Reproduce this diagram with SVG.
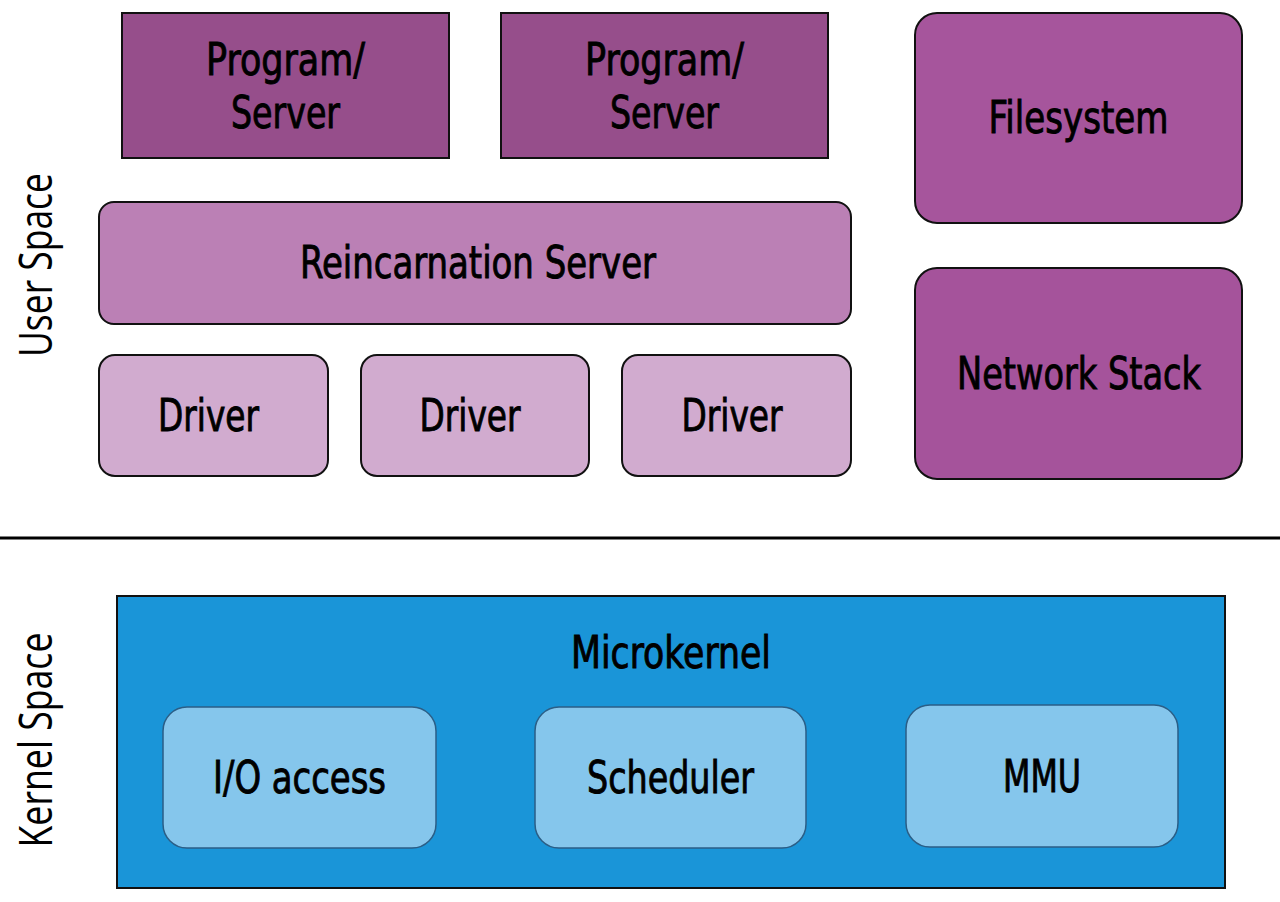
<svg xmlns="http://www.w3.org/2000/svg" width="1280" height="902" viewBox="0 0 1280 902">
<style>
.lbl{font-family:"DejaVu Sans Condensed","DejaVu Sans",sans-serif;font-stretch:condensed;font-size:45px;fill:#000;stroke:#000;stroke-width:0.9;text-anchor:middle}
.side{font-family:"Open Sans","DejaVu Sans",sans-serif;font-size:46px;fill:#000;text-anchor:middle}
.box{stroke:#111;stroke-width:2}
.inner{fill:#85c6ec;stroke:#2b5e86;stroke-width:1.5}
</style>
<rect width="1280" height="902" fill="#fff"/>
<g id="label-user-space"><text class="side" transform="translate(52,265) rotate(-90)" textLength="184" lengthAdjust="spacingAndGlyphs">User Space</text></g>
<g id="label-kernel-space"><text class="side" transform="translate(52,740) rotate(-90)" textLength="215" lengthAdjust="spacingAndGlyphs">Kernel Space</text></g>
<g id="program-server-1"><rect class="box" x="122" y="13" width="327" height="145" fill="#964e8b"/>
<text class="lbl" x="285.5" y="75" textLength="159" lengthAdjust="spacingAndGlyphs">Program/</text>
<text class="lbl" x="285.5" y="128" textLength="109" lengthAdjust="spacingAndGlyphs">Server</text></g>
<g id="program-server-2"><rect class="box" x="501" y="13" width="327" height="145" fill="#964e8b"/>
<text class="lbl" x="664.5" y="75" textLength="159" lengthAdjust="spacingAndGlyphs">Program/</text>
<text class="lbl" x="664.5" y="128" textLength="109" lengthAdjust="spacingAndGlyphs">Server</text></g>
<g id="filesystem"><rect class="box" x="915" y="13" width="327" height="210" rx="22" fill="#a6559c"/>
<text class="lbl" x="1078.5" y="133" textLength="180" lengthAdjust="spacingAndGlyphs">Filesystem</text></g>
<g id="reincarnation-server"><rect class="box" x="99" y="202" width="752" height="122" rx="15" fill="#bb80b5"/>
<text class="lbl" x="478" y="278" textLength="356" lengthAdjust="spacingAndGlyphs">Reincarnation Server</text></g>
<g id="driver-1"><rect class="box" x="99" y="355" width="229" height="121" rx="16" fill="#d1abcf"/>
<text class="lbl" x="208.5" y="431" textLength="101" lengthAdjust="spacingAndGlyphs">Driver</text></g>
<g id="driver-2"><rect class="box" x="361" y="355" width="228" height="121" rx="16" fill="#d1abcf"/>
<text class="lbl" x="470" y="431" textLength="101" lengthAdjust="spacingAndGlyphs">Driver</text></g>
<g id="driver-3"><rect class="box" x="622" y="355" width="229" height="121" rx="16" fill="#d1abcf"/>
<text class="lbl" x="732" y="431" textLength="101" lengthAdjust="spacingAndGlyphs">Driver</text></g>
<g id="network-stack"><rect class="box" x="915" y="268" width="327" height="211" rx="22" fill="#a5539b"/>
<text class="lbl" x="1079" y="389" textLength="244" lengthAdjust="spacingAndGlyphs">Network Stack</text></g>
<g id="connectors"><line x1="0" y1="538" x2="1280" y2="538" stroke="#000" stroke-width="3"/></g>
<g id="microkernel"><rect x="117" y="596" width="1108" height="292" fill="#1a95d8" stroke="#111" stroke-width="2"/>
<text class="lbl" x="671" y="668" textLength="200" lengthAdjust="spacingAndGlyphs">Microkernel</text></g>
<g id="io-access"><rect class="inner" x="163" y="707" width="273" height="141" rx="24"/>
<text class="lbl" x="299.5" y="793" textLength="173" lengthAdjust="spacingAndGlyphs">I/O access</text></g>
<g id="scheduler"><rect class="inner" x="535" y="707" width="271" height="141" rx="24"/>
<text class="lbl" x="670.5" y="793" textLength="167" lengthAdjust="spacingAndGlyphs">Scheduler</text></g>
<g id="mmu"><rect class="inner" x="906" y="705" width="272" height="142" rx="24"/>
<text class="lbl" x="1042" y="792" textLength="78" lengthAdjust="spacingAndGlyphs">MMU</text></g>
</svg>
